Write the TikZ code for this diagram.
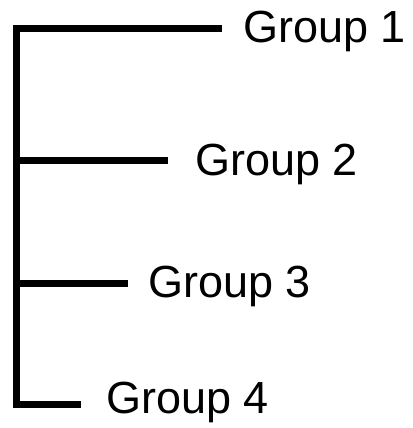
\documentclass[tikz,border=0pt]{standalone}
\usepackage{fontspec}
\setmainfont{Liberation Sans}
\usepackage{tikz}
\usetikzlibrary{positioning, calc}

\begin{document}
\begin{tikzpicture}[
  x=1pt, y=-1pt,
  branch/.style={draw, line width=7pt, line join=miter, line cap=butt},
  label/.style={anchor=base west, inner sep=0pt, font=\fontsize{45}{50}\selectfont}
]
  \useasboundingbox (0,0) rectangle (412,428);

  % Group labels
  \node[label] (g1) at (243,43)  {Group 1};
  \node[label] (g2) at (195,175) {Group 2};
  \node[label] (g3) at (148,297) {Group 3};
  \node[label] (g4) at (106,413) {Group 4};

  % Trunk and branch ends
  \coordinate (t1) at (16.5,28.5);
  \coordinate (t2) at (16.5,160);
  \coordinate (t3) at (16.5,283);
  \coordinate (t4) at (16.5,404);
  \coordinate (e1) at ($(g1.west |- t1) + (-21,0)$);
  \coordinate (e2) at ($(g2.west |- t2) + (-27,0)$);
  \coordinate (e3) at ($(g3.west |- t3) + (-20,0)$);
  \coordinate (e4) at ($(g4.west |- t4) + (-25,0)$);

  \draw[branch] (e1) -- (t1) -- (t4) -- (e4);
  \draw[branch] (t2) -- (e2);
  \draw[branch] (t3) -- (e3);
\end{tikzpicture}
\end{document}
